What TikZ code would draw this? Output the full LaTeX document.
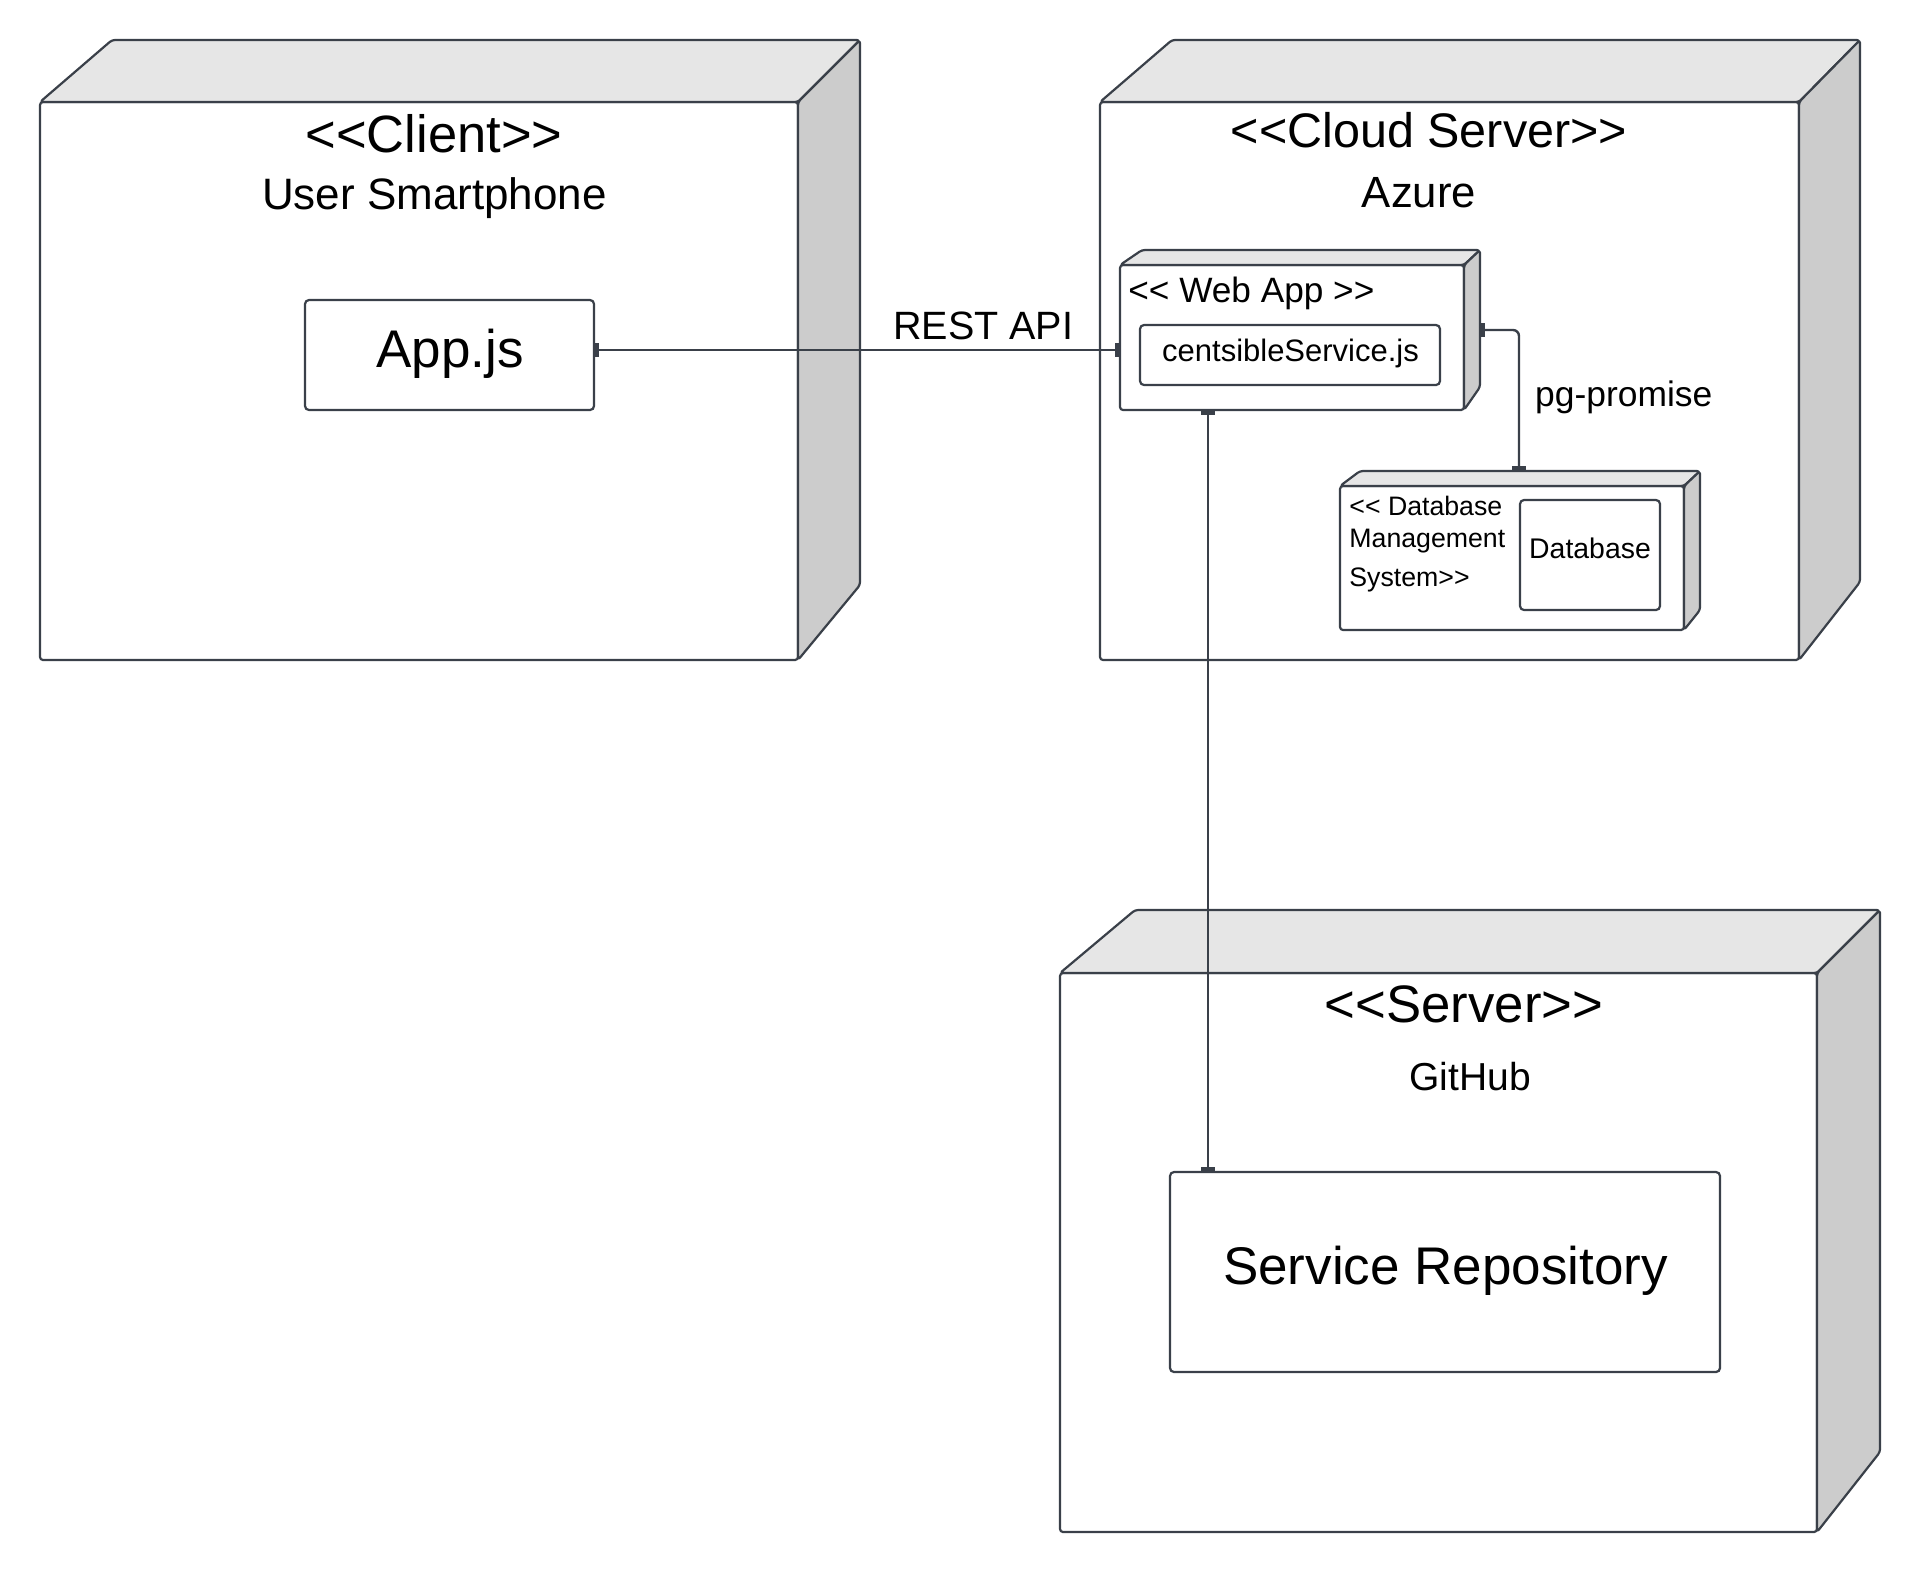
\documentclass[tikz,border=0pt]{standalone}
\usepackage{fontspec}
\setmainfont{Liberation Sans}
\usetikzlibrary{calc}
\usetikzlibrary{fit}
\usetikzlibrary{arrows.meta}

\definecolor{edge}{HTML}{3A4049}
\definecolor{topgray}{HTML}{E6E6E6}
\definecolor{sidegray}{HTML}{CCCCCC}

\newcommand{\ltlt}{<\kern0pt<}
\newcommand{\gtgt}{>\kern0pt>}
% top and side faces of a 3d node: name, top-left shift, depth x, depth y, side bottom
\newcommand{\depthfaces}[5]{%
  \draw[face, fill=topgray] (#1.north west) -- ++(#2,-#4) -- ($(#1.north east)+(#3,-#4)$) -- (#1.north east) -- cycle;
  \draw[face, fill=sidegray] (#1.north east) -- ++(#3,-#4) -- ($(#1.south east)+(#3,-#5)$) -- (#1.south east) -- cycle;
}

\begin{document}
\begin{tikzpicture}[x=0.5pt, y=-0.5pt,
  face/.style={draw=edge, line width=1.1pt, rounded corners=1.5pt, line join=round},
  front/.style={face, fill=white, inner sep=0, outer sep=0},
  part/.style={draw=edge, line width=1.1pt, rounded corners=2pt, fill=white, inner sep=0, outer sep=0},
  txt/.style={inner sep=0, font=\fontsize{#1}{#1}\selectfont},
  link/.style={draw=edge, line width=1.2pt, {Rectangle[length=2.5pt,width=7pt]}-{Rectangle[length=2.5pt,width=7pt]}}]
  \useasboundingbox (0,0) rectangle (1920,1570);

  % client
  \node[front, fit={(40,102) (798,660)}] (client) {};
  \depthfaces{client}{72}{62}{62}{75}
  \node[txt=26.25pt, anchor=base] (clientst) at (434,152) {\ltlt Client\gtgt};
  \node[txt=22pt, anchor=base] (clientname) at (434.5,209) {User Smartphone};
  \node[part, fit={(305,300) (594,410)}] (appjs) {};
  \node[txt=26.5pt, anchor=base] (appjsname) at (450,367) {App.js};

  % cloud server
  \node[front, fit={(1100,102) (1799,660)}] (cloud) {};
  \depthfaces{cloud}{72}{61}{62}{78}
  \node[txt=24.25pt, anchor=base] (cloudst) at (1429,147) {\ltlt Cloud Server\gtgt};
  \node[txt=21.85pt, anchor=base] (cloudname) at (1419,207.5) {Azure};

  \node[front, fit={(1120,265) (1464,410)}] (webapp) {};
  \depthfaces{webapp}{22}{16}{15}{23}
  \node[txt=17.6pt, anchor=base west] (webappst) at (1128,302) {\ltlt{} Web App \gtgt};
  \node[part, fit={(1140,325) (1440,385)}] (service) {};
  \node[txt=15.5pt, anchor=base] (servicename) at (1290.5,361) {centsibleService.js};

  \node[front, fit={(1340,486) (1684,630)}] (dbms) {};
  \depthfaces{dbms}{20}{16}{15}{20}
  \node[txt=13.35pt, anchor=north west, align=left, font=\fontsize{13.35pt}{16pt}\selectfont] (dbmsst) at (1349,495.5)
    {\ltlt{} Database\\Management\\[3.5pt]System\gtgt};
  \node[part, fit={(1520,500) (1660,610)}] (db) {};
  \node[txt=14.2pt, anchor=base] (dbname) at (1590,558) {Database};

  % github server
  \node[front, fit={(1060,973) (1817,1532)}] (github) {};
  \depthfaces{github}{75}{63}{63}{80}
  \node[txt=26.35pt, anchor=base] (githubst) at (1464,1022) {\ltlt Server\gtgt};
  \node[txt=19.5pt, anchor=base] (githubname) at (1470,1090) {GitHub};
  \node[part, fit={(1170,1172) (1720,1372)}] (repo) {};
  \node[txt=26.5pt, anchor=base] (reponame) at (1445.5,1284) {Service Repository};

  % connections
  \draw[link] ($(appjs.east)+(0,-5)$) -- ($(webapp.west)+(0,12.5)$)
    node[pos=0.74, above=4.5pt, txt=19.75pt] (rest) {REST API};
  \draw[link, rounded corners=3pt] ($(webapp.north east)+(16,65)$) -| ($(dbms.north west)+(179,-15)$)
    node[pos=0.74, right=7.5pt, txt=17.7pt] (pg) {pg-promise};
  \draw[link] ($(webapp.south west)+(88,0)$) -- ($(repo.north west)+(38,0)$);
\end{tikzpicture}
\end{document}
